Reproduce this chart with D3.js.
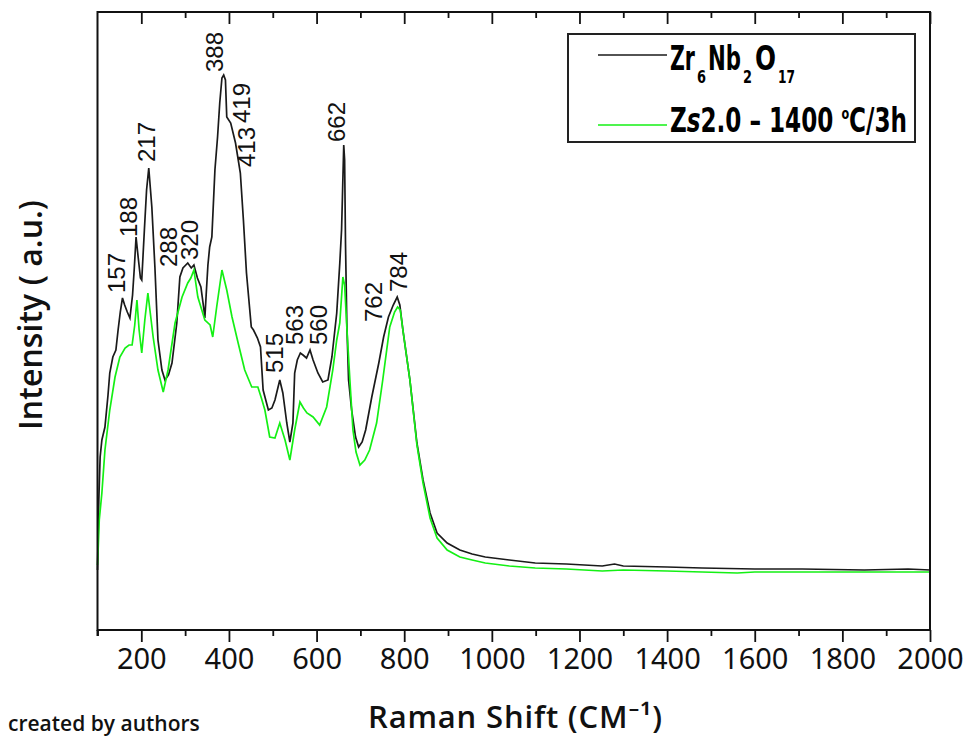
<!DOCTYPE html>
<html>
<head>
<meta charset="utf-8">
<script src="https://cdn.jsdelivr.net/npm/d3@7/dist/d3.min.js"></script>
<style>
  html, body { margin: 0; padding: 0; background: #fff; }
  svg { display: block; }
</style>
</head>
<body>
<svg id="chart" width="967" height="736"></svg>
<script>
// Raman spectra: [wavenumber (cm-1), intensity (a.u.)]
const zrNbOSpectrum = [
  [100,60],[103,130],[106,173],[110,190],[117,203],[124,235],[128,257],[135,273],[142,280],[147,300],
  [152,318],[157,332],[162,325],[168,318],[174,312],[180,335],[184,362],[188,393],[193,372],[198,352],
  [201,350],[207,400],[212,440],[217,462],[224,423],[231,363],[238,290],[247,260],[254,250],[262,255],
  [270,267],[281,307],[288,353],[295,362],[306,367],[314,362],[320,365],[328,352],[336,343],[343,320],
  [345,312],[348,335],[352,365],[356,383],[361,393],[368,460],[374,493],[379,527],[384,552],[388,555],
  [392,550],[395,513],[404,507],[415,487],[426,457],[433,410],[440,357],[451,303],[456,300],[465,292],
  [472,283],[478,240],[490,220],[498,222],[505,230],[516,250],[523,237],[532,207],[539,188],[546,207],
  [550,257],[556,270],[563,277],[569,275],[577,272],[585,280],[592,270],[603,257],[614,248],[626,250],
  [635,273],[646,317],[653,367],[657,400],[659,433],[662,485],[664,470],[666,387],[669,307],[673,250],
  [680,220],[689,193],[696,183],[704,188],[712,200],[726,233],[742,267],[753,293],[764,313],[775,325],
  [784,333],[790,325],[797,300],[813,250],[829,187],[843,150],[859,117],[875,97],[898,87],[927,80],
  [955,76],[985,73],[1040,70],[1099,67],[1170,66],[1252,64],[1280,66],[1300,64],[1400,63],[1480,62],
  [1600,61],[1708,61],[1850,60],[1950,61],[2000,60]
];
const zs2Spectrum = [
  [100,65],[101,75],[104,110],[110,137],[117,180],[128,220],[140,253],[151,273],[163,282],[172,285],
  [179,285],[185,305],[190,330],[195,300],[201,277],[208,310],[215,337],[221,315],[227,293],[238,260],
  [250,238],[261,260],[277,307],[293,333],[306,347],[313,352],[320,360],[329,333],[345,310],[357,305],
  [363,293],[372,323],[384,360],[395,340],[407,313],[421,287],[436,260],[452,243],[466,243],[474,232],
  [482,220],[493,193],[505,192],[516,207],[528,190],[539,170],[550,200],[562,228],[570,222],[578,217],
  [592,213],[607,205],[623,223],[637,260],[646,290],[653,307],[660,353],[664,345],[669,303],[676,250],
  [683,200],[690,178],[699,165],[710,170],[721,180],[737,207],[751,250],[767,303],[778,318],[785,323],
  [791,320],[797,300],[813,250],[829,185],[843,147],[859,112],[875,92],[898,80],[927,73],[955,70],
  [985,67],[1040,64],[1099,62],[1170,61],[1252,59],[1300,60],[1400,59],[1480,58],[1560,57],[1600,58],
  [1708,58],[1850,58],[2000,58]
];

// Peak annotations: label text, anchor wavenumber, anchor intensity
const peakLabels = [
  ["157",163,337],["188",190,393],["217",231,468],["288",281,363],["320",329,370],
  ["388",386,558],["419",448,507],["413",459,463],["662",664,488],["515",523,257],
  ["563",569,285],["560",623,285],["762",749,308],["784",806,338]
];

const xTicks = [200,400,600,800,1000,1200,1400,1600,1800,2000];
const xMinorTicks = [100,300,500,700,900,1100,1300,1500,1700,1900];

const svg = d3.select("#chart");
const plot = { left: 97.5, right: 930, top: 12, bottom: 630 };

const x = d3.scaleLinear().domain([100, 2000]).range([plot.left, plot.right]);
const y = d3.scaleLinear().domain([0, 618]).range([plot.bottom, plot.top]);

const line = d3.line().x(d => x(d[0])).y(d => y(d[1]));

// spectra
svg.append("path").datum(zrNbOSpectrum)
  .attr("d", line).attr("fill", "none")
  .attr("stroke", "#1a1a1a").attr("stroke-width", 1.7);
svg.append("path").datum(zs2Spectrum)
  .attr("d", line).attr("fill", "none")
  .attr("stroke", "#14f014").attr("stroke-width", 1.7);

// bottom axis (outward ticks)
const bottomAxis = svg.append("g").attr("transform", `translate(0,${plot.bottom})`)
  .call(d3.axisBottom(x).tickValues(xTicks).tickSize(12).tickPadding(6).tickFormat(d3.format("d")));
bottomAxis.select(".domain").remove();
bottomAxis.selectAll(".tick line").attr("stroke", "#111").attr("stroke-width", 1.8);
bottomAxis.selectAll(".tick text")
  .attr("font-family", "'Noto Sans', 'Open Sans', sans-serif")
  .attr("font-size", 29).attr("fill", "#111");
svg.append("g").attr("transform", `translate(0,${plot.bottom})`)
  .call(d3.axisBottom(x).tickValues(xMinorTicks).tickSize(6).tickFormat(""))
  .call(g => g.select(".domain").remove())
  .selectAll(".tick line").attr("stroke", "#111").attr("stroke-width", 1.8);

// top axis (inward ticks)
svg.append("g").attr("transform", `translate(0,${plot.top})`)
  .call(d3.axisBottom(x).tickValues(xTicks).tickSize(12).tickFormat(""))
  .call(g => g.select(".domain").remove())
  .selectAll(".tick line").attr("stroke", "#111").attr("stroke-width", 1.8);
svg.append("g").attr("transform", `translate(0,${plot.top})`)
  .call(d3.axisBottom(x).tickValues(xMinorTicks.filter(v => v > 100)).tickSize(6).tickFormat(""))
  .call(g => g.select(".domain").remove())
  .selectAll(".tick line").attr("stroke", "#111").attr("stroke-width", 1.8);

// frame
svg.append("rect")
  .attr("x", plot.left).attr("y", plot.top)
  .attr("width", plot.right - plot.left).attr("height", plot.bottom - plot.top)
  .attr("fill", "none").attr("stroke", "#111").attr("stroke-width", 2);
svg.append("line")
  .attr("x1", plot.left).attr("x2", plot.left)
  .attr("y1", plot.bottom).attr("y2", plot.bottom + 6)
  .attr("stroke", "#111").attr("stroke-width", 2);

// peak labels
svg.append("g").selectAll("text").data(peakLabels).join("text")
  .attr("transform", d => `translate(${x(d[1])},${y(d[2])}) rotate(-90)`)
  .attr("font-family", "'Liberation Sans', Arial, sans-serif")
  .attr("font-size", 24).attr("fill", "#111")
  .text(d => d[0]);

// axis titles
svg.append("text")
  .attr("x", 515).attr("y", 728)
  .attr("text-anchor", "middle")
  .attr("font-family", "'Open Sans', 'Noto Sans', sans-serif")
  .attr("font-weight", 600).attr("font-size", 31).attr("fill", "#111")
  .attr("textLength", 294).attr("lengthAdjust", "spacing")
  .text("Raman Shift (CM⁻¹)");

svg.append("text")
  .attr("transform", "translate(42,315) rotate(-90)")
  .attr("text-anchor", "middle")
  .attr("font-family", "'Open Sans', 'Noto Sans', sans-serif")
  .attr("font-weight", 600).attr("font-size", 32).attr("fill", "#111")
  .attr("textLength", 230).attr("lengthAdjust", "spacing")
  .text("Intensity ( a.u.)");

svg.append("text")
  .attr("x", 8).attr("y", 731)
  .attr("font-family", "'Open Sans', 'Noto Sans', sans-serif")
  .attr("font-weight", 600).attr("font-size", 21).attr("fill", "#111")
  .text("created by authors");

// legend
const legend = svg.append("g");
legend.append("rect")
  .attr("x", 568).attr("y", 34).attr("width", 347).attr("height", 108)
  .attr("fill", "#fff").attr("stroke", "#222").attr("stroke-width", 2);
legend.append("line").attr("x1", 598).attr("x2", 667).attr("y1", 55).attr("y2", 55)
  .attr("stroke", "#1a1a1a").attr("stroke-width", 1.7);
legend.append("line").attr("x1", 598).attr("x2", 667).attr("y1", 125).attr("y2", 125)
  .attr("stroke", "#14f014").attr("stroke-width", 1.7);

const legendFont = "'DejaVu Sans Condensed', 'Liberation Sans', sans-serif";
// Zr6Nb2O17 built from separately fitted pieces: [text, left, width, subscript?]
const formulaParts = [
  ["Zr", 670, 25, false], ["6", 697, 9, true],
  ["Nb", 708, 33, false], ["2", 743, 9, true],
  ["O", 755, 21, false], ["17", 778, 17, true]
];
legend.selectAll("text.formula").data(formulaParts).join("text")
  .attr("class", "formula")
  .attr("x", d => d[1]).attr("y", d => d[3] ? 83 : 70)
  .attr("font-family", legendFont).attr("font-weight", 600)
  .attr("font-size", d => d[3] ? 17 : 33).attr("fill", "#000")
  .attr("textLength", d => d[2]).attr("lengthAdjust", "spacingAndGlyphs")
  .text(d => d[0]);

const t2 = legend.append("text")
  .attr("font-family", legendFont).attr("font-weight", 600)
  .attr("font-size", 33).attr("fill", "#000")
  .attr("x", 670).attr("y", 132)
  .attr("textLength", 237).attr("lengthAdjust", "spacingAndGlyphs");
t2.append("tspan").text("Z");
t2.append("tspan").attr("font-style", "italic").text("s");
t2.append("tspan").text("2.0 – 1400 ");
t2.append("tspan").attr("font-size", 16).attr("dy", -13).text("o");
t2.append("tspan").attr("dy", 13).text("C/3h");
</script>
</body>
</html>
